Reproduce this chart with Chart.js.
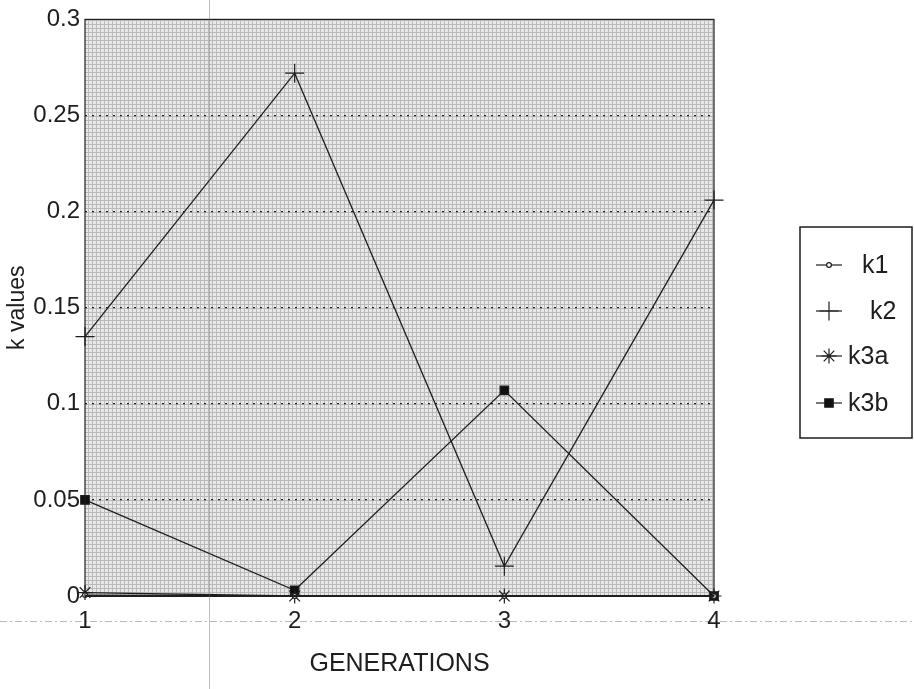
<!DOCTYPE html>
<html>
<head>
<meta charset="utf-8">
<script src="https://cdn.jsdelivr.net/npm/chart.js@4/dist/chart.umd.min.js"></script>
<style>
  html, body { margin: 0; padding: 0; background: #ffffff; }
  #wrap { width: 914px; height: 689px; }
</style>
</head>
<body>
<div id="wrap"><canvas id="c" width="914" height="689"></canvas></div>
<script>
// Generations on the x axis
const generations = ['1', '2', '3', '4'];

// k values per generation
const k1  = [0.0005, 0, 0, 0];
const k2  = [0.135, 0.272, 0.0155, 0.206];
const k3a = [0.0018, 0, 0, 0];
const k3b = [0.05, 0.003, 0.107, 0];

// y axis tick values
const yTicks = [0, 0.05, 0.1, 0.15, 0.2, 0.25, 0.3];

const FONT = '"Liberation Sans", Arial, Helvetica, sans-serif';
const INK = '#1e1e1e';

// stippled grey fill for the plotting area
function makeStipple(ctx) {
  const p = document.createElement('canvas');
  p.width = 4; p.height = 4;
  const g = p.getContext('2d');
  g.fillStyle = '#e8e8e8';
  g.fillRect(0, 0, 4, 4);
  g.fillStyle = '#bababa';
  g.fillRect(0, 0, 4, 1);
  g.fillRect(0, 0, 1, 4);
  return ctx.createPattern(p, 'repeat');
}

const plotBackground = {
  id: 'plotBackground',
  beforeDraw(chart) {
    const { ctx, chartArea: a } = chart;
    ctx.save();
    // faint fold / copy lines on the paper
    ctx.strokeStyle = 'rgba(120,120,120,0.5)';
    ctx.lineWidth = 1;
    ctx.setLineDash([7, 3, 2, 3]);
    ctx.beginPath();
    ctx.moveTo(0, 621.5); ctx.lineTo(914, 621.5);
    ctx.stroke();
    ctx.setLineDash([]);
    ctx.fillStyle = makeStipple(ctx);
    ctx.fillRect(a.left, a.top, a.right - a.left, a.bottom - a.top);
    ctx.restore();
  },
  afterDatasetsDraw(chart) {
    const { ctx, chartArea: a } = chart;
    ctx.save();
    ctx.strokeStyle = INK;
    ctx.lineWidth = 1.2;
    ctx.strokeRect(a.left, a.top, a.right - a.left, a.bottom - a.top);
    ctx.lineWidth = 2;
    ctx.beginPath();
    ctx.moveTo(a.left, a.bottom); ctx.lineTo(a.right, a.bottom);
    ctx.stroke();
    ctx.restore();
  },
  afterDraw(chart) {
    const ctx = chart.ctx;
    ctx.save();
    ctx.strokeStyle = 'rgba(110,110,110,0.45)';
    ctx.lineWidth = 1;
    ctx.beginPath();
    ctx.moveTo(209.5, 0); ctx.lineTo(209.5, 689);
    ctx.stroke();
    ctx.restore();
  }
};

// boxed legend on the right, built from the datasets
const boxLegend = {
  id: 'boxLegend',
  afterDraw(chart, args, opts) {
    const ctx = chart.ctx;
    const b = opts.box;
    ctx.save();
    ctx.fillStyle = '#ffffff';
    ctx.fillRect(b.x, b.y, b.w, b.h);
    ctx.strokeStyle = INK;
    ctx.lineWidth = 1.5;
    ctx.strokeRect(b.x, b.y, b.w, b.h);
    ctx.font = '25px ' + FONT;
    ctx.textBaseline = 'middle';
    chart.data.datasets.forEach((ds, i) => {
      const y = opts.rows[i];
      const mx = b.x + 29;
      ctx.strokeStyle = INK;
      ctx.lineWidth = 1.2;
      ctx.beginPath();
      ctx.moveTo(mx - 13, y); ctx.lineTo(mx + 13, y);
      ctx.stroke();
      ctx.fillStyle = ds.pointBackgroundColor;
      ctx.strokeStyle = INK;
      Chart.helpers.drawPoint(ctx, {
        pointStyle: ds.pointStyle,
        radius: ds.pointRadius,
        rotation: 0,
        borderWidth: ds.pointBorderWidth || 1
      }, mx, y);
      ctx.fillStyle = INK;
      ctx.fillText(ds.label, b.x + opts.textX[i], y + 1);
    });
    ctx.restore();
  }
};

function series(label, data, style, radius, fill, order) {
  return {
    label, data, order,
    borderColor: INK,
    borderWidth: 1.3,
    pointStyle: style,
    pointRadius: radius,
    pointHoverRadius: radius,
    pointBorderColor: INK,
    pointBackgroundColor: fill,
    pointBorderWidth: 1.2,
    tension: 0,
    fill: false,
    clip: false
  };
}

new Chart(document.getElementById('c'), {
  type: 'line',
  data: {
    labels: generations,
    datasets: [
      series('k1', k1, 'circle', 2.4, '#ffffff', 0),
      series('k2', k2, 'cross', 9.5, INK, 1),
      series('k3a', k3a, 'star', 7.5, INK, 2),
      series('k3b', k3b, 'rect', 6, '#111111', 3)
    ]
  },
  options: {
    responsive: false,
    animation: false,
    events: [],
    layout: { padding: { left: 0, right: 200, top: 19, bottom: 0 } },
    plugins: {
      legend: { display: false },
      tooltip: { enabled: false },
      boxLegend: {
        box: { x: 800, y: 227, w: 112, h: 211 },
        rows: [265, 311, 356, 403],
        textX: [62, 70, 48, 48]
      }
    },
    scales: {
      x: {
        offset: false,
        grid: { display: false, drawTicks: false },
        border: { display: false },
        ticks: { color: INK, font: { family: FONT, size: 24 }, padding: 11, maxRotation: 0 },
        title: {
          display: true, text: 'GENERATIONS', color: INK,
          font: { family: FONT, size: 25 }, padding: { top: 0, bottom: 10 }
        },
        afterFit(s) { s.height = 93; }
      },
      y: {
        min: 0, max: 0.3,
        afterBuildTicks(s) { s.ticks = yTicks.map(v => ({ value: v })); },
        grid: {
          drawTicks: false,
          color: (c) => (c.tick && c.tick.value > 0 && c.tick.value < 0.3) ? '#222222' : 'rgba(0,0,0,0)',
          lineWidth: 1.2
        },
        border: { display: false, dash: [2, 5] },
        ticks: {
          color: INK, font: { family: FONT, size: 24 }, padding: 5,
          callback: (v) => String(v)
        },
        title: {
          display: true, text: 'k values', color: INK,
          font: { family: FONT, size: 23 }, padding: { top: 4, bottom: 0 }
        },
        afterFit(s) { s.width = 85; }
      }
    }
  },
  plugins: [plotBackground, boxLegend]
});
</script>
</body>
</html>
